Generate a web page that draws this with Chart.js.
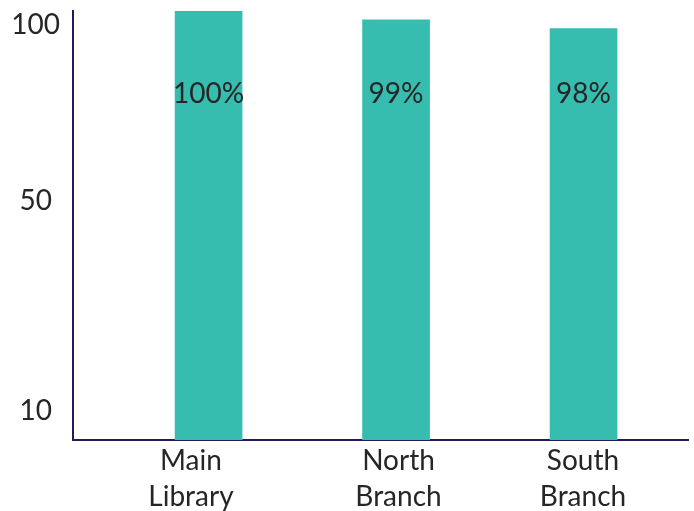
<!DOCTYPE html>
<html>
<head>
<meta charset="utf-8">
<title>Branch chart</title>
<script src="https://cdn.jsdelivr.net/npm/chart.js@4/dist/chart.umd.min.js"></script>
<style>
    html, body { margin: 0; padding: 0; background: #ffffff; }
    #chart-canvas { display: block; }
</style>
</head>
<body>
<canvas id="chart-canvas" width="694" height="511"></canvas>
<script>
// chart data
const categories = [['Main', 'Library'], ['North', 'Branch'], ['South', 'Branch']];
const values = [100, 99, 98];
const valueLabels = ['100%', '99%', '98%'];

// category labels as printed (the first one sits a bit left of its bar)
const xTickValues = [-0.094, 1.013, 1.997];

// y tick labels as printed, and where they sit on the value scale
const yTickLabels = ['100', '50', '10'];
const yTickValues = [98.4, 78.3, 54.3];

const BAR_COLOR = '#36bdb0';
const AXIS_COLOR = '#231c55';
const TEXT_COLOR = '#262626';
const FONT = 'Lato, "Open Sans", sans-serif';

// value text drawn inside each bar
const valueLabelPlugin = {
    id: 'valueLabels',
    afterDatasetsDraw(chart) {
        const ctx = chart.ctx;
        const meta = chart.getDatasetMeta(0);
        const yScale = chart.scales.y;
        ctx.save();
        ctx.font = '28px ' + FONT;
        ctx.fillStyle = TEXT_COLOR;
        ctx.textAlign = 'center';
        ctx.textBaseline = 'alphabetic';
        meta.data.forEach((bar, i) => {
            ctx.fillText(valueLabels[i], bar.x, yScale.getPixelForValue(89.5));
        });
        ctx.restore();
    }
};

// labels sit well inside the axes, no extra edge room needed
const noEdgePadding = (scale) => {
    scale.paddingTop = 0;
    scale.paddingBottom = 0;
    scale.paddingLeft = 0;
    scale.paddingRight = 0;
};

const ctx = document.getElementById('chart-canvas');

new Chart(ctx, {
    type: 'bar',
    data: {
        datasets: [{
            data: values.map((v, i) => ({ x: i, y: v })),
            backgroundColor: BAR_COLOR,
            barThickness: 67,
            borderWidth: 0
        }]
    },
    options: {
        responsive: false,
        animation: false,
        layout: {
            padding: { top: 11, right: 6, bottom: 0, left: 0 }
        },
        plugins: {
            legend: { display: false },
            tooltip: { enabled: false }
        },
        scales: {
            x: {
                type: 'linear',
                offset: false,
                min: -0.723,
                max: 2.557,
                grid: { display: false, offset: false },
                border: { display: true, color: AXIS_COLOR, width: 2 },
                afterBuildTicks: (scale) => {
                    scale.ticks = xTickValues.map(v => ({ value: v }));
                },
                afterFit: (scale) => {
                    scale.height = 71;
                    noEdgePadding(scale);
                },
                ticks: {
                    padding: -5,
                    autoSkip: false,
                    maxRotation: 0,
                    color: TEXT_COLOR,
                    font: { family: FONT, size: 28, lineHeight: '36px' },
                    callback: (value, index) => categories[index]
                }
            },
            y: {
                type: 'linear',
                min: 51,
                max: 100,
                grid: { display: false },
                border: { display: true, color: AXIS_COLOR, width: 2 },
                afterBuildTicks: (scale) => {
                    scale.ticks = yTickValues.map(v => ({ value: v }));
                },
                afterFit: (scale) => {
                    scale.width = 73;
                    noEdgePadding(scale);
                },
                ticks: {
                    padding: 5,
                    crossAlign: 'center',
                    color: TEXT_COLOR,
                    font: { family: FONT, size: 28 },
                    callback: (value, index) => yTickLabels[index]
                }
            }
        }
    },
    plugins: [valueLabelPlugin]
});
</script>
</body>
</html>
